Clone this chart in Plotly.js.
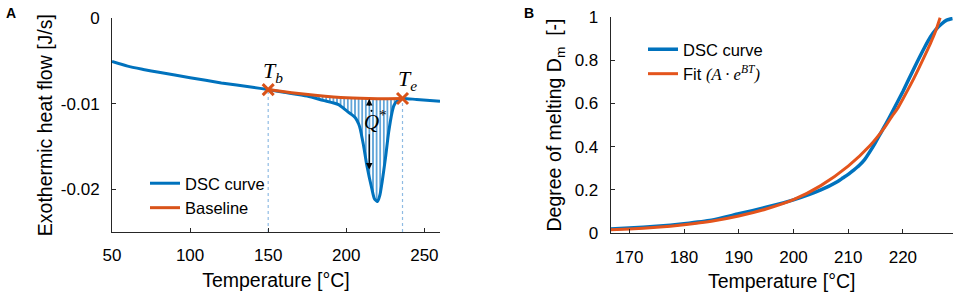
<!DOCTYPE html>
<html><head><meta charset="utf-8">
<script src="https://cdn.plot.ly/plotly-3.0.1.min.js"></script>
<style>html,body{margin:0;padding:0;background:#fff}#chart{width:957px;height:296px}</style>
</head><body><div id="chart"></div>
<script>
// Panel A: DSC curve
const dscT = [50, 60, 70, 80, 100, 120, 140, 150, 160, 175, 185, 195, 200.4, 203, 205.8, 208, 209, 210, 211.1, 213.2, 216.4, 218, 220, 221.5, 222.9, 225, 227.1, 229.3, 230.5, 232.5, 236, 245, 260];
const dscQ = [-0.00505, -0.00560, -0.00598, -0.00632, -0.00695, -0.00756, -0.00807, -0.00834, -0.00865, -0.0091, -0.0096, -0.0101, -0.01086, -0.0112, -0.01163, -0.0124, -0.0130, -0.0139, -0.01493, -0.01725, -0.01997, -0.0211, -0.02144, -0.0207, -0.0192, -0.01648, -0.01337, -0.0110, -0.0102, -0.0097, -0.00938, -0.0095, -0.0097];
// Baseline between onset and end temperatures
const baseT = [150, 165, 180, 200, 220, 236];
const baseQ = [-0.00834, -0.0087, -0.0090, -0.0093, -0.0094, -0.00938];
const limitT = [150, 236];          // T_b, T_e
const limitQ = [-0.00834, -0.00938];
const peakArrowT = 214.7;

// Panel B: degree of melting
const meltT = [166.6, 170, 175, 180, 185, 190, 195, 200, 205, 208, 209, 210, 211, 212, 213, 214, 215, 216, 217, 218, 220, 222, 224, 225, 226, 227, 228, 229.1];
const meltD = [0.02, 0.024, 0.032, 0.044, 0.06, 0.09, 0.12, 0.154, 0.20, 0.238, 0.255, 0.272, 0.292, 0.313, 0.34, 0.378, 0.42, 0.465, 0.51, 0.557, 0.655, 0.76, 0.86, 0.905, 0.94, 0.965, 0.984, 0.992];
const fitT = [166.6, 170, 175, 180, 185, 190, 195, 200, 205, 210, 214, 216.7, 218, 219, 220, 222, 224, 225, 226, 226.8];
const fitD = [0.016, 0.02, 0.028, 0.04, 0.056, 0.08, 0.112, 0.155, 0.22, 0.31, 0.405, 0.49, 0.54, 0.575, 0.62, 0.715, 0.82, 0.875, 0.935, 0.995];

const xTicksA = [50, 100, 150, 200, 250];
const yTicksA = [-0.02, -0.01, 0];
const yTickTextA = ['-0.02', '-0.01', '0'];
const xTicksB = [170, 180, 190, 200, 210, 220];
const yTicksB = [0, 0.2, 0.4, 0.6, 0.8, 1];
const yTickTextB = ['0', '0.2', '0.4', '0.6', '0.8', '1'];

const BLUE = '#0072BD', ORANGE = '#D95319', FIT = '#E4541C';
const SANS = 'Liberation Sans, Arial, sans-serif';
const SERIF = 'Liberation Serif, Times New Roman, serif';
const AX = '#262626';

// segment of DSC curve between T_b and T_e (for hatched area)
const segT = [], segQ = [];
dscT.forEach((t, i) => { if (t >= limitT[0] && t <= limitT[1]) { segT.push(t); segQ.push(dscQ[i]); } });

const traces = [
  {x: baseT, y: baseQ, mode: 'lines', line: {width: 0, color: ORANGE}, showlegend: false, hoverinfo: 'skip', xaxis: 'x', yaxis: 'y'},
  {x: segT, y: segQ, mode: 'lines', line: {width: 0, color: BLUE, shape: 'spline', smoothing: 0.6}, fill: 'tonexty', fillcolor: 'rgba(0,0,0,0)',
   fillpattern: {shape: '|', fgcolor: '#1f7fc8', bgcolor: 'rgba(255,255,255,0)', size: 3.6, solidity: 0.35},
   showlegend: false, hoverinfo: 'skip', xaxis: 'x', yaxis: 'y'},
  {x: dscT, y: dscQ, mode: 'lines', name: 'DSC curve', line: {color: BLUE, width: 3, shape: 'spline', smoothing: 0.6}, legend: 'legend', xaxis: 'x', yaxis: 'y'},
  {x: baseT, y: baseQ, mode: 'lines', name: 'Baseline', line: {color: ORANGE, width: 3, shape: 'spline', smoothing: 0.5}, legend: 'legend', xaxis: 'x', yaxis: 'y'},
  {x: limitT, y: limitQ, mode: 'markers', marker: {symbol: 'x-thin', size: 11, line: {width: 3, color: ORANGE}, color: ORANGE}, showlegend: false, xaxis: 'x', yaxis: 'y'},
  {x: meltT, y: meltD, mode: 'lines', name: 'DSC curve', line: {color: BLUE, width: 3.5, shape: 'spline', smoothing: 0.6}, legend: 'legend2', xaxis: 'x2', yaxis: 'y2'},
  {x: fitT, y: fitD, mode: 'lines', name: 'Fit <span style="font-family:Liberation Serif, serif"><i>(A · e<sup>BT</sup>)</i></span>', line: {color: FIT, width: 3, shape: 'spline', smoothing: 0.6}, legend: 'legend2', xaxis: 'x2', yaxis: 'y2'}
];

function xax(domain, range, tickvals, anchor) {
  return {domain, range, tickvals, anchor, ticks: 'inside', ticklen: 4, tickcolor: AX, showline: true, linecolor: AX, linewidth: 1,
    showgrid: false, zeroline: false, tickfont: {family: SANS, size: 17, color: '#000'}, ticklabelstandoff: 8,
    title: {text: 'Temperature [°C]', font: {family: SANS, size: 19.5, color: '#000'}, standoff: 8}, fixedrange: true};
}
function yax(domain, range, tickvals, ticktext, anchor, title, standoff) {
  return {domain, range, tickvals, ticktext, anchor, ticks: 'inside', ticklen: 4, tickcolor: AX, showline: true, linecolor: AX, linewidth: 1,
    showgrid: false, zeroline: false, tickfont: {family: SANS, size: 17, color: '#000'}, ticklabelstandoff: 8,
    title: {text: title, font: {family: SANS, size: 19.5, color: '#000'}, standoff}, fixedrange: true};
}

const layout = {
  width: 957, height: 296, margin: {l: 0, r: 0, t: 0, b: 0}, paper_bgcolor: '#fff', plot_bgcolor: 'rgba(0,0,0,0)',
  font: {family: SANS, color: '#000'},
  xaxis: xax([112/957, 440/957], [50, 260], xTicksA, 'y'),
  yaxis: yax([1 - 232/296, 1 - 18.3/296], [-0.025, 0], yTicksA, yTickTextA, 'x', 'Exothermic heat flow [J/s]', 3),
  xaxis2: xax([610.7/957, 952.7/957], [166.6, 229.1], xTicksB, 'y2'),
  yaxis2: yax([1 - 233.3/296, 1 - 16.7/296], [0, 1], yTicksB, yTickTextB, 'x2', 'Degree of melting D<sub>m</sub>  [-]', 7),
  legend: {x: 145/957, y: 1 - 166/296, xanchor: 'left', yanchor: 'top', bgcolor: 'rgba(0,0,0,0)', borderwidth: 0, traceorder: 'normal',
    font: {family: SANS, size: 16.5, color: '#000'}, tracegroupgap: 0},
  legend2: {x: 643/957, y: 1 - 32/296, xanchor: 'left', yanchor: 'top', bgcolor: 'rgba(0,0,0,0)', borderwidth: 0, traceorder: 'normal',
    font: {family: SANS, size: 16.5, color: '#000'}, tracegroupgap: 0},
  shapes: limitT.map((t, i) => ({type: 'line', xref: 'x', yref: 'y', x0: t, x1: t, y0: -0.025, y1: limitQ[i],
    line: {color: '#8fbbe3', width: 1.2, dash: 'dot'}, layer: 'below'})).concat([
    // dot of Q-dot
    {type: 'circle', xref: 'x', yref: 'y', x0: 215.5, x1: 216.8, y0: -0.01095, y1: -0.01070, fillcolor: '#000', line: {width: 0}}
  ]),
  annotations: [
    {xref: 'paper', yref: 'paper', x: 4/957, y: 1 - 3/296, xanchor: 'left', yanchor: 'top', text: '<b>A</b>', showarrow: false, font: {family: SANS, size: 14, color: '#000'}},
    {xref: 'paper', yref: 'paper', x: 522/957, y: 1 - 3/296, xanchor: 'left', yanchor: 'top', text: '<b>B</b>', showarrow: false, font: {family: SANS, size: 14, color: '#000'}},
    {xref: 'x', yref: 'y', x: 153, y: -0.0063, text: '<i>T<sub>b</sub></i>', showarrow: false, font: {family: SERIF, size: 22, color: '#000'}},
    {xref: 'x', yref: 'y', x: 239.5, y: -0.0072, text: '<i>T<sub>e</sub></i>', showarrow: false, font: {family: SERIF, size: 22, color: '#000'}},
    {xref: 'x', yref: 'y', x: 218.4, y: -0.0120, text: '<i>Q</i><sup>*</sup>', showarrow: false, font: {family: SERIF, size: 21, color: '#000'}},
    {xref: 'x', yref: 'y', axref: 'x', ayref: 'y', x: peakArrowT, y: limitQ[1] - 0.00005, ax: peakArrowT, ay: -0.0104, text: '', showarrow: true, arrowhead: 2, arrowsize: 1, arrowwidth: 1.3, arrowcolor: '#000'},
    {xref: 'x', yref: 'y', axref: 'x', ayref: 'y', x: peakArrowT, y: -0.0177, ax: peakArrowT, ay: -0.0134, text: '', showarrow: true, arrowhead: 2, arrowsize: 1, arrowwidth: 1.3, arrowcolor: '#000'}
  ]
};

Plotly.newPlot('chart', traces, layout, {staticPlot: true, displayModeBar: false});
</script>
</body></html>
